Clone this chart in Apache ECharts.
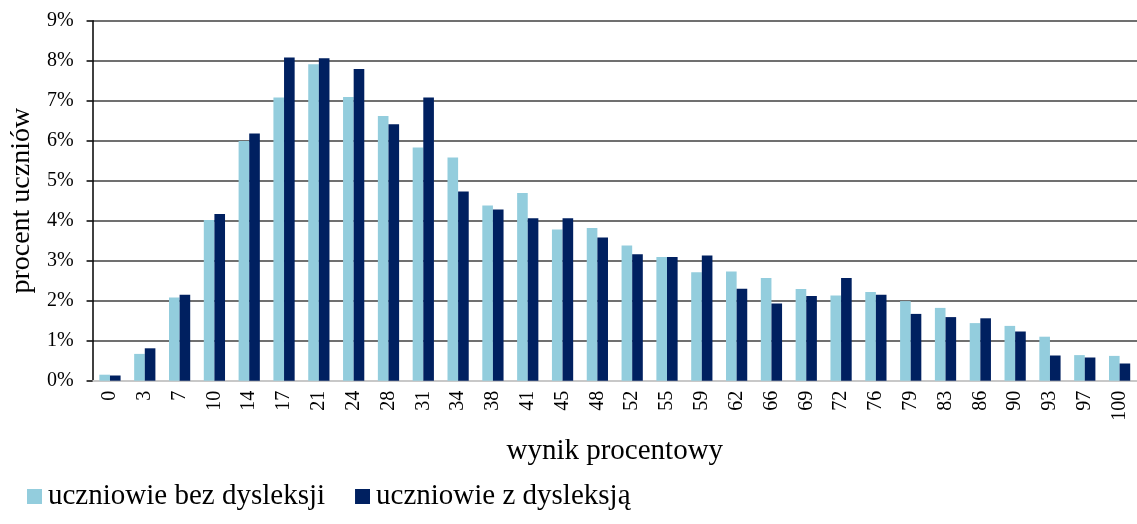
<!DOCTYPE html>
<html>
<head>
<meta charset="utf-8">
<script src="https://cdn.jsdelivr.net/npm/echarts@6/dist/echarts.min.js"></script>
<style>
html,body{margin:0;padding:0;background:#fff;}
#chart{width:1137px;height:524px;}
</style>
</head>
<body>
<div id="chart"></div>
<script>
const categories = ['0','3','7','10','14','17','21','24','28','31','34','38','41','45','48','52','55','59','62','66','69','72','76','79','83','86','90','93','97','100'];
const bezDysleksji = [0.15,0.67,2.08,4.02,5.99,7.08,7.91,7.09,6.62,5.83,5.58,4.38,4.69,3.78,3.82,3.38,3.09,2.71,2.73,2.57,2.29,2.13,2.22,1.99,1.82,1.44,1.37,1.10,0.64,0.62];
const zDysleksja = [0.13,0.81,2.15,4.17,6.18,8.08,8.06,7.79,6.41,7.08,4.73,4.28,4.06,4.06,3.58,3.16,3.09,3.13,2.30,1.93,2.12,2.57,2.15,1.67,1.59,1.56,1.23,0.63,0.58,0.43];
const seriesNames = ['uczniowie bez dysleksji','uczniowie z dysleksją'];
const yAxisTitle = 'procent uczniów';
const xAxisTitle = 'wynik procentowy';

const font = '"Liberation Serif", "Times New Roman", serif';
const chart = echarts.init(document.getElementById('chart'), null, {renderer:'canvas'});
chart.setOption({
  animation:false,
  backgroundColor:'#fff',
  textStyle:{fontFamily:font,color:'#000'},
  grid:{left:89,top:20.7,width:1058,height:360},
  legend:{
    left:27, top:482, padding:0,
    itemWidth:15, itemHeight:15, itemGap:30,
    icon:'rect',
    textStyle:{fontFamily:font,fontSize:29,color:'#000',padding:[0,0,0,1]},
    data:seriesNames
  },
  xAxis:{
    type:'category',
    data:categories,
    name:xAxisTitle,
    nameLocation:'middle',
    nameGap:56,
    nameTextStyle:{fontFamily:font,fontSize:29,color:'#000'},
    axisLine:{lineStyle:{color:'#c8c8c8',width:2}},
    axisTick:{show:false},
    axisLabel:{rotate:90,fontFamily:font,fontSize:20,color:'#000',margin:10,interval:0}
  },
  yAxis:{
    type:'value',
    min:0,max:9,interval:1,
    name:yAxisTitle,
    nameLocation:'middle',
    nameGap:48,
    nameTextStyle:{fontFamily:font,fontSize:28,color:'#000'},
    axisLine:{show:true,lineStyle:{color:'#000',width:1.5}},
    axisTick:{show:true,length:6,lineStyle:{color:'#000',width:1.5}},
    axisLabel:{fontFamily:font,fontSize:20,color:'#000',margin:19,formatter:v=>v+'%'},
    splitLine:{lineStyle:{color:'#404040',width:1.5}}
  },
  series:[
    {name:seriesNames[0],type:'bar',data:bezDysleksji,barGap:'0%',barCategoryGap:'39%',itemStyle:{color:'#93CDDD'}},
    {name:seriesNames[1],type:'bar',data:zDysleksja,barGap:'0%',barCategoryGap:'39%',itemStyle:{color:'#002060'}}
  ]
});
</script>
</body>
</html>
